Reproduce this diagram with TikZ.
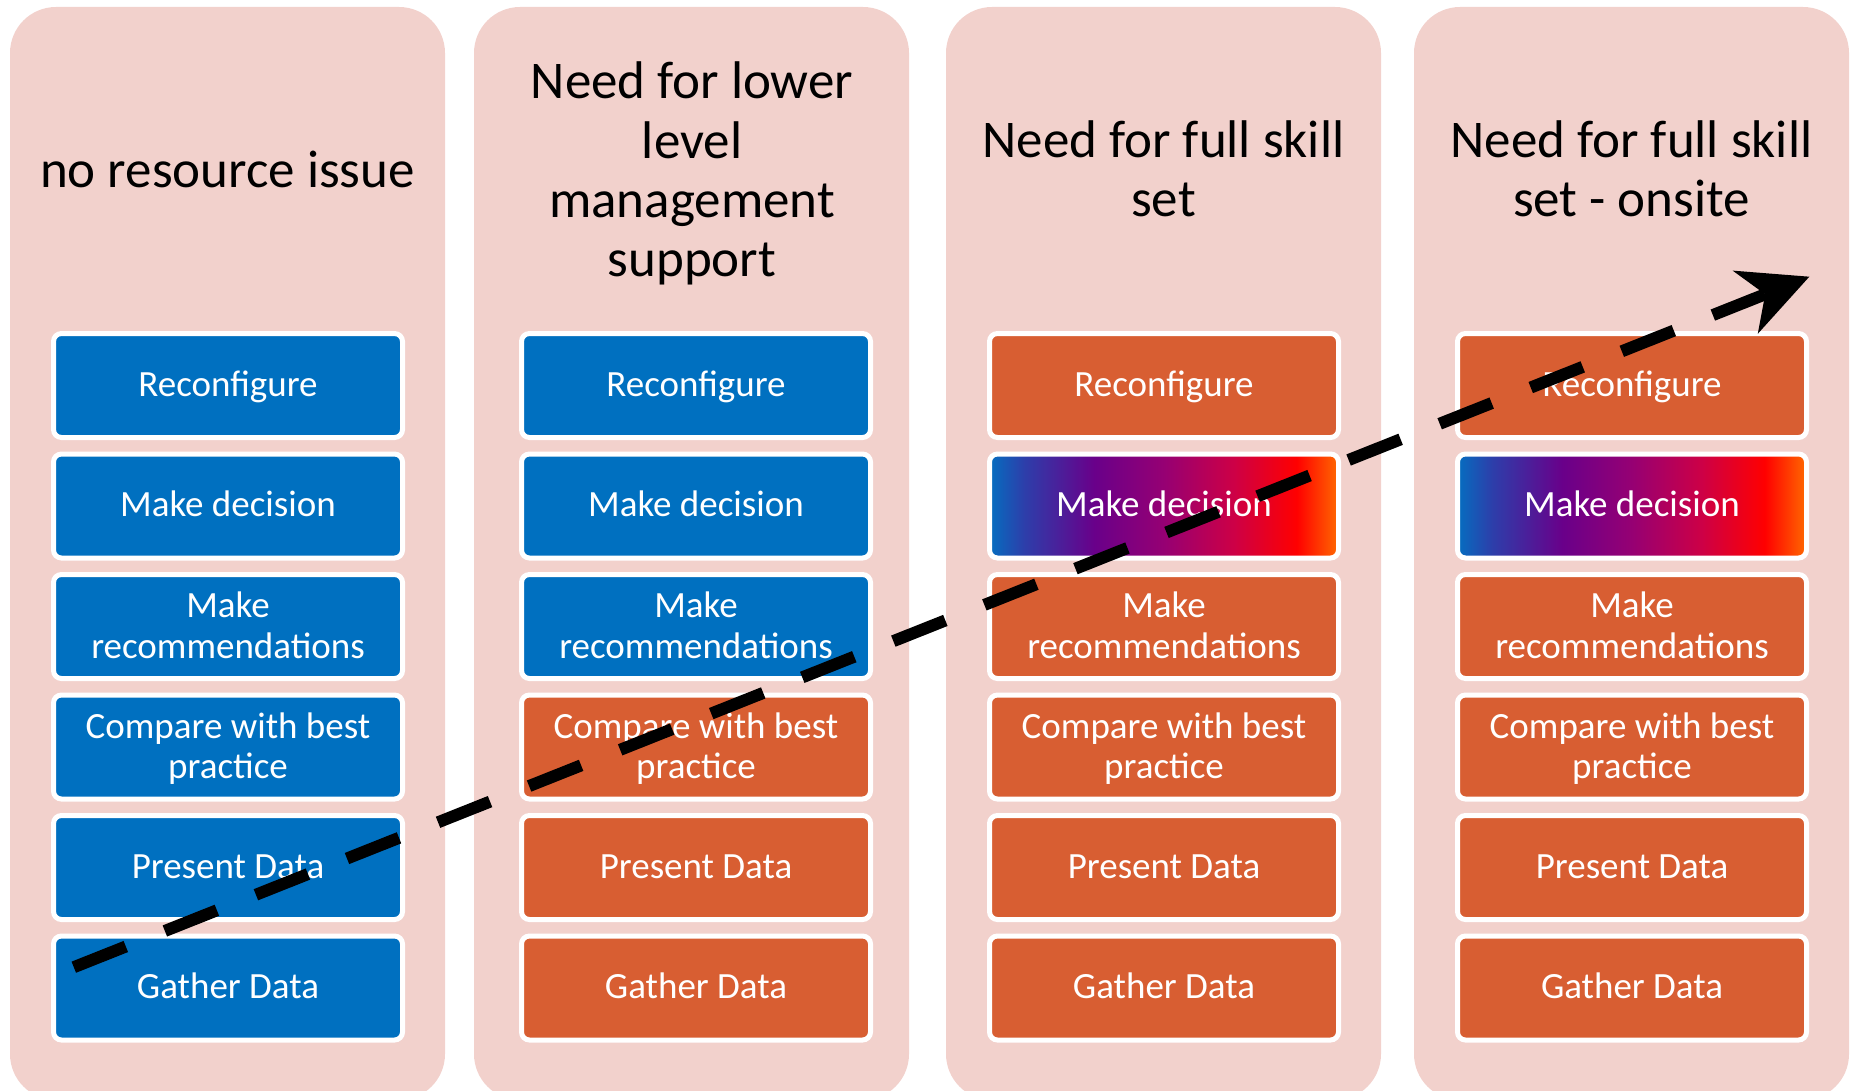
\documentclass[tikz,border=0pt]{standalone}
\usepackage{fontspec}
\setmainfont{Carlito}
\usetikzlibrary{arrows.meta}
\definecolor{panelpink}{RGB}{242,209,204}
\definecolor{bblue}{RGB}{0,112,192}
\definecolor{borange}{RGB}{216,94,50}
\definecolor{gA}{RGB}{5,110,192}
\definecolor{gB}{RGB}{45,62,170}
\definecolor{gC}{RGB}{105,0,138}
\definecolor{gD}{RGB}{150,0,115}
\definecolor{gE}{RGB}{205,0,70}
\definecolor{gF}{RGB}{255,0,0}
\definecolor{gG}{RGB}{255,105,0}
\pgfdeclarehorizontalshading{mdshade}{100bp}{color(0bp)=(gA); color(25bp)=(gA); color(30bp)=(gB); color(40bp)=(gC); color(50bp)=(gD); color(60bp)=(gE); color(69bp)=(gF); color(75bp)=(gG); color(100bp)=(gG)}
\newcommand\twolines[2]{\begin{tabular}[t]{@{}c@{}}#1\\#2\end{tabular}}
\tikzset{
  panelbox/.style={rectangle, rounded corners=46pt, fill=panelpink, draw=none, inner sep=0pt, minimum width=435pt, minimum height=1093pt},
  titletext/.style={anchor=base, inner sep=0pt, text=black, font=\fontsize{53}{59.3}\selectfont},
  stepbox/.style={rectangle, rounded corners=8pt, draw=white, line width=5pt, minimum width=349pt, minimum height=104pt, inner sep=0pt, text=white, font=\fontsize{37}{40.5}\selectfont},
  oneline/.style={text height=21pt, text depth=0pt},
  twoline/.style={text height=0pt, text depth=17.6pt},
  bluebox/.style={stepbox, fill=bblue},
  orangebox/.style={stepbox, fill=borange},
  gradbox/.style={stepbox, shade, shading=mdshade},
  trend/.style={line width=12pt, dash pattern=on 56pt off 42pt, -{Stealth[length=69pt,width=68pt,inset=21.5pt,line width=0pt]}}
}
\begin{document}
\begin{tikzpicture}[x=1pt,y=-1pt]
\useasboundingbox (0,0) rectangle (1854,1091);
\clip (0,0) rectangle (1854,1091);
% panels
\node[panelbox] (p1) at (227.5,553.5) {};
\node[panelbox] (p2) at (691.5,553.5) {};
\node[panelbox] (p3) at (1163.5,553.5) {};
\node[panelbox] (p4) at (1631.5,553.5) {};
% titles
\node[titletext] (t1) at (227.5,187.5) {no resource issue};
\node[titletext] (t2) at (692,99) {\begin{tabular}[t]{@{}c@{}}Need for lower\\level\\management\\support\end{tabular}};
\node[titletext] (t3) at (1163.5,157.5) {\twolines{Need for full skill}{set}};
\node[titletext] (t4) at (1631.5,157.5) {\twolines{Need for full skill}{set - onsite}};
% column 1
\node[bluebox,oneline] (b11) at (228,385.5) {Reconfigure};
\node[bluebox,oneline] (b12) at (228,506) {Make decision};
\node[bluebox,twoline] (b13) at (228,626.5) {\twolines{Make}{recommendations}};
\node[bluebox,twoline] (b14) at (228,747) {\twolines{Compare with best}{practice}};
\node[bluebox,oneline] (b15) at (228,867.5) {Present Data};
\node[bluebox,oneline] (b16) at (228,988) {Gather Data};
% column 2
\node[bluebox,oneline] (b21) at (696,385.5) {Reconfigure};
\node[bluebox,oneline] (b22) at (696,506) {Make decision};
\node[bluebox,twoline] (b23) at (696,626.5) {\twolines{Make}{recommendations}};
\node[orangebox,twoline] (b24) at (696,747) {\twolines{Compare with best}{practice}};
\node[orangebox,oneline] (b25) at (696,867.5) {Present Data};
\node[orangebox,oneline] (b26) at (696,988) {Gather Data};
% column 3
\node[orangebox,oneline] (b31) at (1164,385.5) {Reconfigure};
\node[gradbox,oneline] (b32) at (1164,506) {Make decision};
\node[orangebox,twoline] (b33) at (1164,626.5) {\twolines{Make}{recommendations}};
\node[orangebox,twoline] (b34) at (1164,747) {\twolines{Compare with best}{practice}};
\node[orangebox,oneline] (b35) at (1164,867.5) {Present Data};
\node[orangebox,oneline] (b36) at (1164,988) {Gather Data};
% column 4
\node[orangebox,oneline] (b41) at (1632,385.5) {Reconfigure};
\node[gradbox,oneline] (b42) at (1632,506) {Make decision};
\node[orangebox,twoline] (b43) at (1632,626.5) {\twolines{Make}{recommendations}};
\node[orangebox,twoline] (b44) at (1632,747) {\twolines{Compare with best}{practice}};
\node[orangebox,oneline] (b45) at (1632,867.5) {Present Data};
\node[orangebox,oneline] (b46) at (1632,988) {Gather Data};
% trend arrow
\coordinate (as) at (73.8,967.2);
\coordinate (ae) at (1809.3,276.7);
\draw[trend] (as) -- (ae);
\end{tikzpicture}
\end{document}
